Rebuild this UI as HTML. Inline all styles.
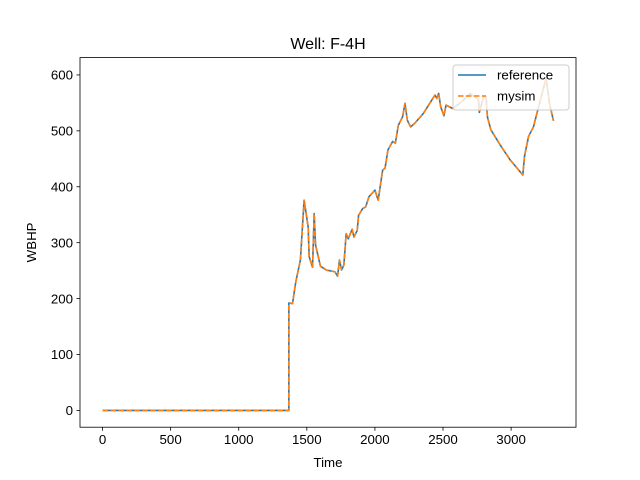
<!DOCTYPE html>
<html><head><meta charset="utf-8"><style>body{margin:0;background:#fff}svg{display:block;font-family:"Liberation Sans","DejaVu Sans",sans-serif}</style></head>
<body>
<svg id="chart" width="640" height="480" viewBox="0 0 640 480">
<rect width="640" height="480" fill="#fff"/>
<g id="plot"></g>
</svg>
<script>
const times=[0,1368,1368,1375,1395,1419,1453,1480,1510,1517,1542,1554,1564,1600,1644,1706,1726,1740,1755,1772,1789,1804,1833,1846,1870,1880,1910,1932,1956,2000,2024,2057,2074,2096,2130,2150,2172,2203,2221,2238,2262,2294,2355,2441,2454,2468,2483,2507,2522,2571,2637,2699,2760,2767,2797,2816,2826,2851,2919,2993,3086,3098,3128,3164,3189,3257,3282,3311];
const referenceValues=[0,0,192,192,191,230,269,376,328,275,256,352,296,258,251,248,240,269,251,260,316,307,324,310,322,349,361,364,382,394,376,430,433,466,481,478,510,525,549,519,507,514,531,564,558,567,543,527,546,540,552,567,556,533,561,561,525,502,475,448,421,454,490,507,531,594,549,518];
const mysimValues=referenceValues.slice();
const xTicks=[0,500,1000,1500,2000,2500,3000];
const yTicks=[0,100,200,300,400,500,600];
const seriesNames=["reference","mysim"];

const NS="http://www.w3.org/2000/svg";
const L=80,T=57.6,W=496,H=369.6;
const xmin=-165.5,xmax=3476.5,ymin=-30,ymax=631;
const sx=v=>L+(v-xmin)/(xmax-xmin)*W;
const sy=v=>T+H-(v-ymin)/(ymax-ymin)*H;
const g=document.getElementById('plot');
function mk(tag,attrs,txt){const e=document.createElementNS(NS,tag);for(const k in attrs)e.setAttribute(k,attrs[k]);if(txt!==undefined)e.textContent=txt;g.appendChild(e);return e;}

function line(vals,color,dash,name){
  const p=mk('polyline',{points:times.map((t,i)=>sx(t).toFixed(2)+','+sy(vals[i]).toFixed(2)).join(' '),fill:'none',stroke:color,'stroke-width':1.6,'stroke-dasharray':dash||'none','stroke-linejoin':'round'});
  
  
}
line(referenceValues,'#1f77b4','','reference-line');
line(mysimValues,'#ff7f0e','5.55 2.4','mysim-line');

const fr=mk('rect',{x:L,y:T,width:W,height:H,fill:'none',stroke:'#000','stroke-width':0.8});



xTicks.forEach(v=>{
  const x=sx(v);
  mk('line',{x1:x,x2:x,y1:T+H,y2:T+H+3.5,stroke:'#000','stroke-width':0.8});
  const t=mk('text',{x:x,y:T+H+17,'text-anchor':'middle','font-size':13.3,fill:'#000'},String(v));
  
  
});
yTicks.forEach(v=>{
  const y=sy(v);
  mk('line',{x1:L-3.5,x2:L,y1:y,y2:y,stroke:'#000','stroke-width':0.8});
  const t=mk('text',{x:L-7,y:y+4.7,'text-anchor':'end','font-size':13.3,fill:'#000'},String(v));
  
  
});

const xt=mk('text',{x:L+W/2,y:467,'text-anchor':'middle','font-size':13.3},'Time');


const yt=mk('text',{x:0,y:0,'text-anchor':'middle','font-size':13.3,transform:'translate(36,'+(T+H/2)+') rotate(-90)'},'WBHP');


const tt=mk('text',{x:L+W/2,y:49,'text-anchor':'middle','font-size':16},'Well: F-4H');



const lb=mk('rect',{x:453,y:65,width:116,height:45,rx:3,fill:'#fff','fill-opacity':0.8,stroke:'#ccc','stroke-width':1});


const colors=['#1f77b4','#ff7f0e'],dashes=['none','5.55 2.4'];
seriesNames.forEach((n,i)=>{
  const y=75+i*21;
  mk('line',{x1:458,x2:486,y1:y,y2:y,stroke:colors[i],'stroke-width':1.5,'stroke-dasharray':dashes[i]});
  const t=mk('text',{x:497,y:y+4.7,'font-size':13.3},n);
  
  
});
</script>
</body></html>
